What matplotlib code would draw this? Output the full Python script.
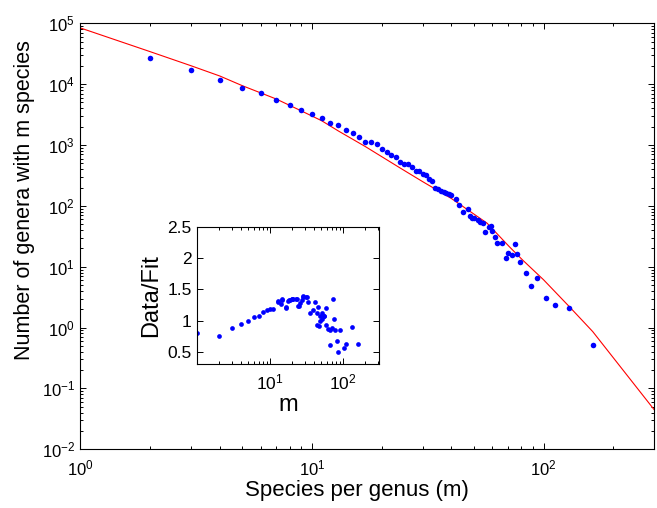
import math
import matplotlib
matplotlib.use("Agg")
import matplotlib.pyplot as plt
from matplotlib.ticker import LogLocator, FixedLocator, NullFormatter, FuncFormatter

plt.rcParams['font.family'] = ['Liberation Sans', 'DejaVu Sans']
plt.rcParams['mathtext.fontset'] = 'custom'
plt.rcParams['mathtext.rm'] = 'Liberation Sans'
plt.rcParams['mathtext.it'] = 'Liberation Sans'

# genera size distribution
species_m = [2, 3, 4, 5, 6, 7, 8, 9, 10, 11, 12, 13, 14, 15, 16, 17, 18, 19, 20, 21,
             22, 23, 24, 25, 26, 27, 28, 29, 30, 31, 32, 33, 34, 35, 36, 37, 38, 39, 40, 42,
             43, 45, 47, 48, 49, 50, 52, 53, 55, 56, 58, 59, 60, 62, 63, 66, 69, 70, 73, 75,
             77, 79, 84, 88, 94, 102, 112, 129, 163]
genera_n = [26600, 16900, 11900, 8770, 7180, 5570, 4550, 3720, 3210, 2750,
            2280, 2160, 1750, 1600, 1370, 1110, 1110, 1020, 873, 780,
            681, 646, 527, 484, 484, 432, 372, 372, 335, 319,
            274, 254, 198, 188, 178, 170, 162, 157, 150, 132,
            105, 79, 90, 67, 63.5, 63.5, 59, 54.6, 53, 37.4,
            44.7, 47, 39.3, 30.6, 24.4, 24.4, 14.0, 17.1, 15.5, 23.2,
            16.3, 12.0, 8.0, 4.86, 6.57, 3.08, 2.39, 2.06, 0.51]

# fitted curve
fit_m = [1, 2, 3, 4, 5, 7, 9, 11, 13, 17, 24, 30, 40, 57, 71, 81, 100, 129, 163, 300]
fit_n = [83800, 34200, 20100, 13600, 9440, 5710, 3630, 2510, 1700, 942,
         420, 251, 132, 52, 21.5, 13.0, 6.1, 2.22, 0.86, 0.045]

# inset: data / fit
ratio_m = [1, 2, 3, 4, 5, 6, 7, 8, 9, 10, 11, 13, 13, 14, 14.6, 14.7, 16.5, 16.7, 17.8, 18.3,
           18.6, 19.8, 20.2, 20.8, 22.9, 23.2, 24.4, 25.2, 26, 27, 28.3, 28.5, 30.8, 31.7, 32.8,
           35, 38.8, 41.4, 44, 44, 45.9, 47, 48, 49, 51.2, 52.1, 54.5, 55.6, 58.1, 58.1,
           61.8, 65.9, 67.1, 71.5, 73.1, 76.2, 77.9, 83, 86.5, 92.1, 102.5, 111, 132, 163]
ratio_val = [0.80, 0.75, 0.88, 0.95, 0.99, 1.05, 1.08, 1.13, 1.17, 1.19, 1.19, 1.29, 1.31, 1.26, 1.34, 1.33, 1.20, 1.21, 1.31, 1.33,
             1.33, 1.35, 1.35, 1.35, 1.35, 1.34, 1.23, 1.24, 1.28, 1.33, 1.40, 1.38, 1.38, 1.38, 1.29,
             1.12, 1.17, 1.29, 1.12, 0.92, 1.21, 0.91, 1.00, 1.07, 1.12, 1.02, 1.08, 1.07, 1.20, 0.93,
             0.87, 0.84, 0.60, 0.88, 1.35, 1.03, 0.85, 0.67, 0.50, 0.85, 0.55, 0.62, 0.90, 0.62]


def pow10(v, pos):
    return r'$\mathregular{10^{%d}}$' % round(math.log10(v))


def style_axes(ax):
    ax.tick_params(which='both', direction='in', top=True, right=True, width=0.7)
    ax.tick_params(which='major', length=4.5)
    ax.tick_params(which='minor', length=2.4)
    for s in ax.spines.values():
        s.set_linewidth(0.8)


fig = plt.figure(figsize=(6.57, 5.08), dpi=100)
ax = fig.add_axes([0.1225, 0.1156, 0.873, 0.8385])
ax.set_xscale('log')
ax.set_yscale('log')
ax.plot(fit_m, fit_n, color='red', lw=0.8)
ax.plot(species_m, genera_n, 'o', color='blue', ms=4, mec='none')
ax.set_xlim(1, 300)
ax.set_ylim(1e-2, 1e5)
ax.xaxis.set_major_locator(FixedLocator([1, 10, 100]))
ax.yaxis.set_major_locator(LogLocator(base=10, numticks=20))
ax.xaxis.set_minor_locator(LogLocator(base=10, subs=range(2, 10), numticks=20))
ax.yaxis.set_minor_locator(LogLocator(base=10, subs=range(2, 10), numticks=20))
ax.xaxis.set_major_formatter(FuncFormatter(pow10))
ax.yaxis.set_major_formatter(FuncFormatter(pow10))
ax.xaxis.set_minor_formatter(NullFormatter())
ax.yaxis.set_minor_formatter(NullFormatter())
ax.tick_params(labelsize=12, pad=4)
ax.tick_params(axis='x', pad=7)
style_axes(ax)
ax.set_xlabel('Species per genus (m)', fontsize=16, labelpad=0)
ax.xaxis.set_label_coords(0.4826, -0.072)
ax.set_ylabel('Number of genera with m species', fontsize=15.5, labelpad=4)
ax.yaxis.set_label_coords(-0.08, 0.585)

# inset
ins = fig.add_axes([0.3003, 0.2835, 0.277, 0.269])
ins.set_xscale('log')
ins.plot(ratio_m, ratio_val, 'o', color='blue', ms=3.4, mec='none')
ins.set_xlim(1, 316)
ins.set_ylim(0.3, 2.5)
ins.xaxis.set_major_locator(FixedLocator([10, 100]))
ins.xaxis.set_minor_locator(LogLocator(base=10, subs=range(2, 10), numticks=20))
ins.xaxis.set_major_formatter(FuncFormatter(pow10))
ins.xaxis.set_minor_formatter(NullFormatter())
ins.set_yticks([0.5, 1, 1.5, 2, 2.5])
ins.set_yticklabels(['0.5', '1', '1.5', '2', '2.5'])
ins.tick_params(labelsize=12.5, pad=4)
ins.tick_params(axis='x', pad=6)
style_axes(ins)
ins.set_xlabel('m', fontsize=17, labelpad=1)
ins.set_ylabel('Data/Fit', fontsize=17, labelpad=4)

fig.savefig('out.png', dpi=100)
